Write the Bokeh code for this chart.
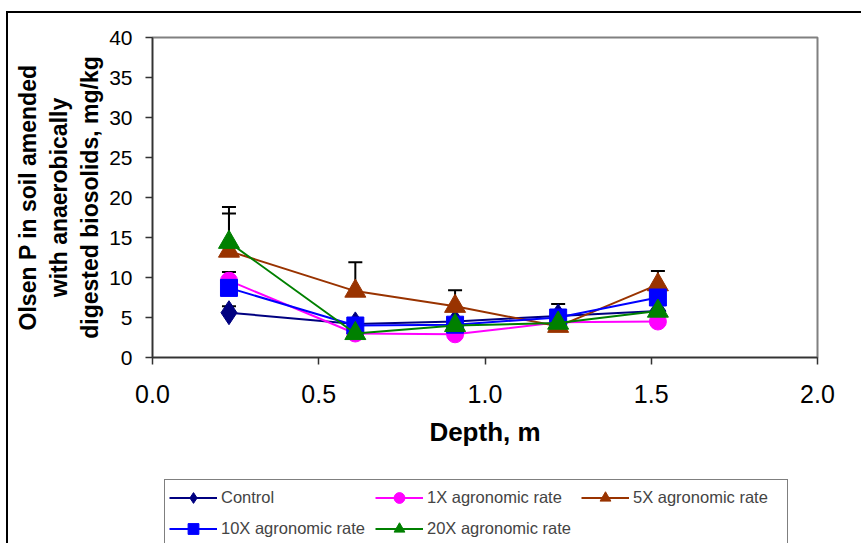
from bokeh.plotting import figure
from bokeh.layouts import column
from bokeh.models import (ColumnDataSource, Legend, LegendItem, Whisker, TeeHead,
                          FixedTicker, NumeralTickFormatter, Range1d)
from bokeh.embed import file_html
from bokeh.resources import INLINE

# ---- data ----
depth = [0.23, 0.61, 0.91, 1.22, 1.52]
control = [5.6, 4.2, 4.5, 5.2, 5.8]
rate_1x = [9.6, 3.0, 2.9, 4.4, 4.5]
rate_5x = [13.3, 8.3, 6.4, 3.9, 9.1]
rate_10x = [8.7, 4.0, 4.1, 5.0, 7.5]
rate_20x = [14.4, 3.0, 4.0, 4.3, 5.8]

err_control = [0.8, 0.0, 0.0, 1.5, 0.0]
err_1x = [1.1, 0.0, 0.0, 0.0, 0.0]
err_5x = [4.7, 3.6, 2.0, 0.0, 1.7]
err_10x = [0.0, 0.0, 0.0, 0.0, 0.0]
err_20x = [4.4, 0.0, 0.0, 0.0, 0.0]

series_names = ["Control", "1X agronomic rate", "5X agronomic rate",
                "10X agronomic rate", "20X agronomic rate"]
x_ticks = [0.0, 0.5, 1.0, 1.5, 2.0]
y_ticks = [0, 5, 10, 15, 20, 25, 30, 35, 40]

series = [
    (series_names[0], control, err_control, "#000080", "diamond", 24),
    (series_names[1], rate_1x, err_1x, "#FF00FF", "circle", 17),
    (series_names[2], rate_5x, err_5x, "#993300", "triangle", 21),
    (series_names[3], rate_10x, err_10x, "#0000FF", "square", 17),
    (series_names[4], rate_20x, err_20x, "#008000", "triangle", 21),
]

SANS = "Liberation Sans"

p = figure(width=853, height=460, output_backend="svg", toolbar_location=None,
           x_range=Range1d(0, 2), y_range=Range1d(0, 40),
           min_border_left=144, min_border_right=44, min_border_top=24,
           min_border_bottom=116)

p.xgrid.visible = False
p.ygrid.visible = False
p.outline_line_color = "#808080"
p.outline_line_width = 2

# axes
p.xaxis.ticker = FixedTicker(ticks=x_ticks)
p.xaxis.formatter = NumeralTickFormatter(format="0.0")
p.yaxis.ticker = FixedTicker(ticks=y_ticks)
for ax in (p.xaxis[0], p.yaxis[0]):
    ax.axis_line_color = "#333333"
    ax.axis_line_width = 1.5
    ax.major_tick_line_color = "#333333"
    ax.major_tick_line_width = 1.5
    ax.major_tick_out = 7
    ax.major_tick_in = 0
    ax.minor_tick_line_color = None
    ax.major_label_text_font = SANS
    ax.major_label_text_color = "black"
    ax.axis_label_text_font = SANS
    ax.axis_label_text_font_style = "bold"
    ax.axis_label_text_color = "black"

p.xaxis.major_label_text_font_size = "25px"
p.xaxis.major_label_standoff = 20
p.xaxis.axis_label = "Depth, m"
p.xaxis.axis_label_text_font_size = "26px"
p.xaxis.axis_label_standoff = 11

p.yaxis.major_label_text_font_size = "21px"
p.yaxis.major_label_standoff = 13
p.yaxis.axis_label = "Olsen P in soil amended\nwith anaerobically\ndigested biosolids, mg/kg"
p.yaxis.axis_label_text_font_size = "23px"
p.yaxis.axis_label_standoff = 3

# error bars first (drawn beneath)
for name, vals, errs, color, marker, size in series:
    lo, hi, xs = [], [], []
    for d, v, e in zip(depth, vals, errs):
        if e > 0:
            xs.append(d)
            lo.append(v)
            hi.append(v + e)
    if xs:
        src = ColumnDataSource(data=dict(x=xs, lower=lo, upper=hi))
        w = Whisker(source=src, base="x", lower="lower", upper="upper",
                    line_color="black", line_width=2,
                    lower_head=None,
                    upper_head=TeeHead(size=14, line_color="black", line_width=2))
        p.add_layout(w)

for name, vals, errs, color, marker, size in series:
    src = ColumnDataSource(data=dict(x=depth, y=vals))
    p.line("x", "y", source=src, line_color=color, line_width=2)
    p.scatter("x", "y", source=src, marker=marker, size=size,
              fill_color=color, line_color=color)

# ---- legend strip (separate figure below the chart; its ranges keep the
# series themselves out of view so only the legend shows) ----
q = figure(width=853, height=70, output_backend="svg", toolbar_location=None,
           x_range=Range1d(0, 2), y_range=Range1d(-20, -19),
           min_border=0, outline_line_color=None)
q.axis.visible = False
q.xgrid.visible = False
q.ygrid.visible = False

items = []
for name, vals, errs, color, marker, size in series:
    src = ColumnDataSource(data=dict(x=depth, y=vals))
    r_line = q.line("x", "y", source=src, line_color=color, line_width=2)
    r_pts = q.scatter("x", "y", source=src, marker=marker, size=size,
                      fill_color=color, line_color=color)
    items.append(LegendItem(label=name, renderers=[r_line, r_pts]))

legend = Legend(items=items, orientation="horizontal", ncols=3,
                location=(12, -4),
                label_text_font=SANS, label_text_font_size="16.5px",
                label_standoff=4, label_width=150,
                glyph_width=48, glyph_height=27,
                spacing=4, padding=4, margin=0,
                border_line_color="black", border_line_width=1.5,
                background_fill_color="white", background_fill_alpha=1.0)
q.add_layout(legend, "center")

layout = column(p, q, spacing=0)
layout.styles = {"border-top": "2px solid black", "border-left": "2px solid black",
                 "margin-top": "11px", "margin-left": "6px"}

open("out.html", "w").write(file_html(layout, INLINE))
